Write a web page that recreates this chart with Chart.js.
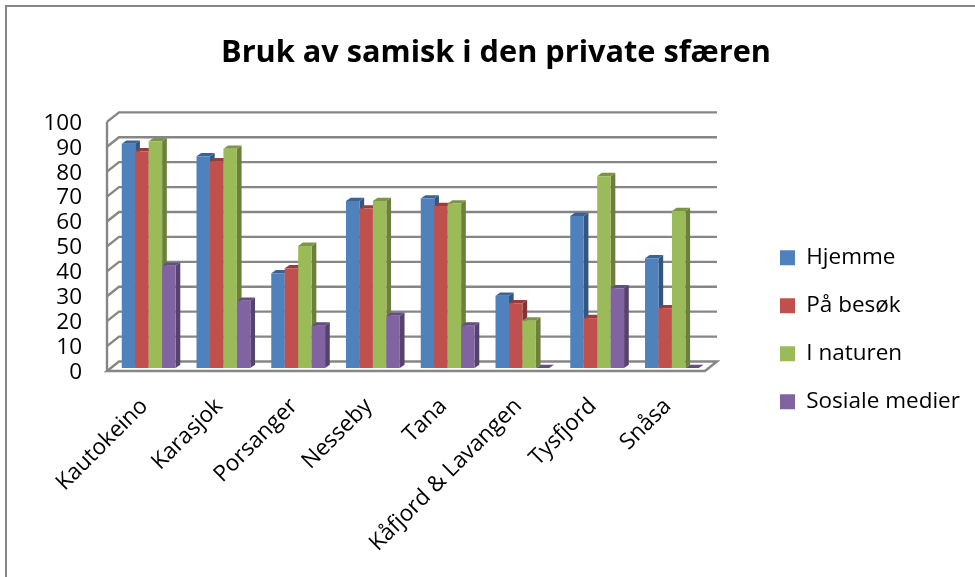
<!DOCTYPE html>
<html><head><meta charset="utf-8">
<style>html,body{margin:0;padding:0;background:#fff}canvas{display:block}</style>
<script src="https://cdn.jsdelivr.net/npm/chart.js@4/dist/chart.umd.js"></script>
</head><body><canvas id="c" width="975" height="577"></canvas>
<script>
const categories=["Kautokeino","Karasjok","Porsanger","Nesseby","Tana","Kåfjord & Lavangen","Tysfjord","Snåsa"];
const hjemme=[90,85,38,67,68,29,61,44];
const paBesok=[87,83,40,64,65,26,20,24];
const iNaturen=[91,88,49,67,66,19,77,63];
const sosialeMedier=[41,27,17,21,17,0,32,0];
const yTicks=[0,10,20,30,40,50,60,70,80,90,100];
const seriesNames=["Hjemme","På besøk","I naturen","Sosiale medier"];
const faceColors=["#4F81BD","#C0504D","#9BBB59","#8064A2"];
const sideColors=["#335680","#843533","#6A803C","#55436F"];
const topColors=["#3A6295","#973E3C","#7B9546","#644E80"];
const FONT="'Open Sans'";
const DEPTH={x:12,y:9.5}, BAR={x:4.3,y:3,dx:4.7,dy:3.3};
const plugin={id:'bars3d',
 afterLayout(chart){
  const l=chart.legend; l.left=754.5;l.right=975;l.width=220.5;l.top=164.5;l.bottom=495;l.height=330.5;
  const t=chart.titleBlock; t.left=17;t.right=975;t.width=958;
 },
 beforeDraw(chart){
  const {ctx,chartArea:a,scales:{y}}=chart;
  ctx.save();
  ctx.fillStyle='#fff';ctx.fillRect(0,0,975,577);
  ctx.strokeStyle='#868686';ctx.lineWidth=2;ctx.beginPath();ctx.moveTo(6,577);ctx.lineTo(6,6);ctx.lineTo(975,6);ctx.stroke();
  ctx.lineWidth=2.4;ctx.strokeStyle='#868686';ctx.lineJoin='miter';
  yTicks.forEach(v=>{const p=y.getPixelForValue(v);
    if(v===0)return;
    ctx.beginPath();ctx.moveTo(a.left,p);ctx.lineTo(a.left+DEPTH.x,p-DEPTH.y);ctx.lineTo(a.right+DEPTH.x,p-DEPTH.y);ctx.stroke();});
  const b=y.getPixelForValue(0),t=y.getPixelForValue(100);
  ctx.beginPath();ctx.moveTo(a.left+DEPTH.x,b-DEPTH.y);ctx.lineTo(a.right+DEPTH.x,b-DEPTH.y);ctx.lineTo(a.right,b);ctx.lineTo(a.left,b);ctx.closePath();ctx.stroke();
  ctx.beginPath();ctx.moveTo(a.left,b);ctx.lineTo(a.left,t);ctx.stroke();
  ctx.restore();
 },
 beforeDatasetDraw(){return false;},
 afterDatasetsDraw(chart){
  const ctx=chart.ctx;
  ctx.save();ctx.translate(BAR.x,-BAR.y);
  chart.data.datasets.forEach((ds,i)=>{
    chart.getDatasetMeta(i).data.forEach(el=>{
      const l=el.x-el.width/2,r=el.x+el.width/2,tp=el.y,bs=el.base;
      ctx.fillStyle=sideColors[i];ctx.beginPath();ctx.moveTo(r,tp);ctx.lineTo(r+BAR.dx,tp-BAR.dy);ctx.lineTo(r+BAR.dx,bs-BAR.dy);ctx.lineTo(r,bs);ctx.closePath();ctx.fill();
      ctx.fillStyle=topColors[i];ctx.beginPath();ctx.moveTo(l,tp);ctx.lineTo(l+BAR.dx,tp-BAR.dy);ctx.lineTo(r+BAR.dx,tp-BAR.dy);ctx.lineTo(r,tp);ctx.closePath();ctx.fill();
      el.draw(ctx);
    });
  });
  ctx.restore();
 }
};
Chart.defaults.font.family=FONT;
new Chart(document.getElementById('c'),{type:'bar',plugins:[plugin],
 data:{labels:categories,datasets:[hjemme,paBesok,iNaturen,sosialeMedier].map((d,i)=>({label:seriesNames[i],data:d,backgroundColor:faceColors[i],borderWidth:0,categoryPercentage:0.72,barPercentage:1,clip:false}))},
 options:{responsive:false,animation:false,devicePixelRatio:1,
  layout:{padding:{left:0,right:270,top:0,bottom:0}},
  scales:{
   x:{grid:{display:false},border:{display:false},
      ticks:{color:'#000',font:{size:22.5},maxRotation:45,minRotation:45,autoSkip:false,padding:14},
      afterFit(s){s.height=206;}},
   y:{min:0,max:100,grid:{display:false},border:{display:false},
      afterBuildTicks(s){s.ticks=yTicks.map(v=>({value:v}));},
      ticks:{color:'#000',font:{size:22.5},padding:17,autoSkip:false,labelOffset:1.5},
      afterFit(s){s.width=107;}}
  },
  plugins:{
   title:{display:true,text:"Bruk av samisk i den private sfæren",color:'#000',font:{size:30.7,weight:'bold'},padding:{top:35,bottom:50}},
   legend:{position:'chartArea',align:'center',labels:{color:'#000',font:{size:22.5},boxWidth:15,boxHeight:15,padding:25.5}},
   tooltip:{enabled:false}
  }
 }});
</script></body></html>
